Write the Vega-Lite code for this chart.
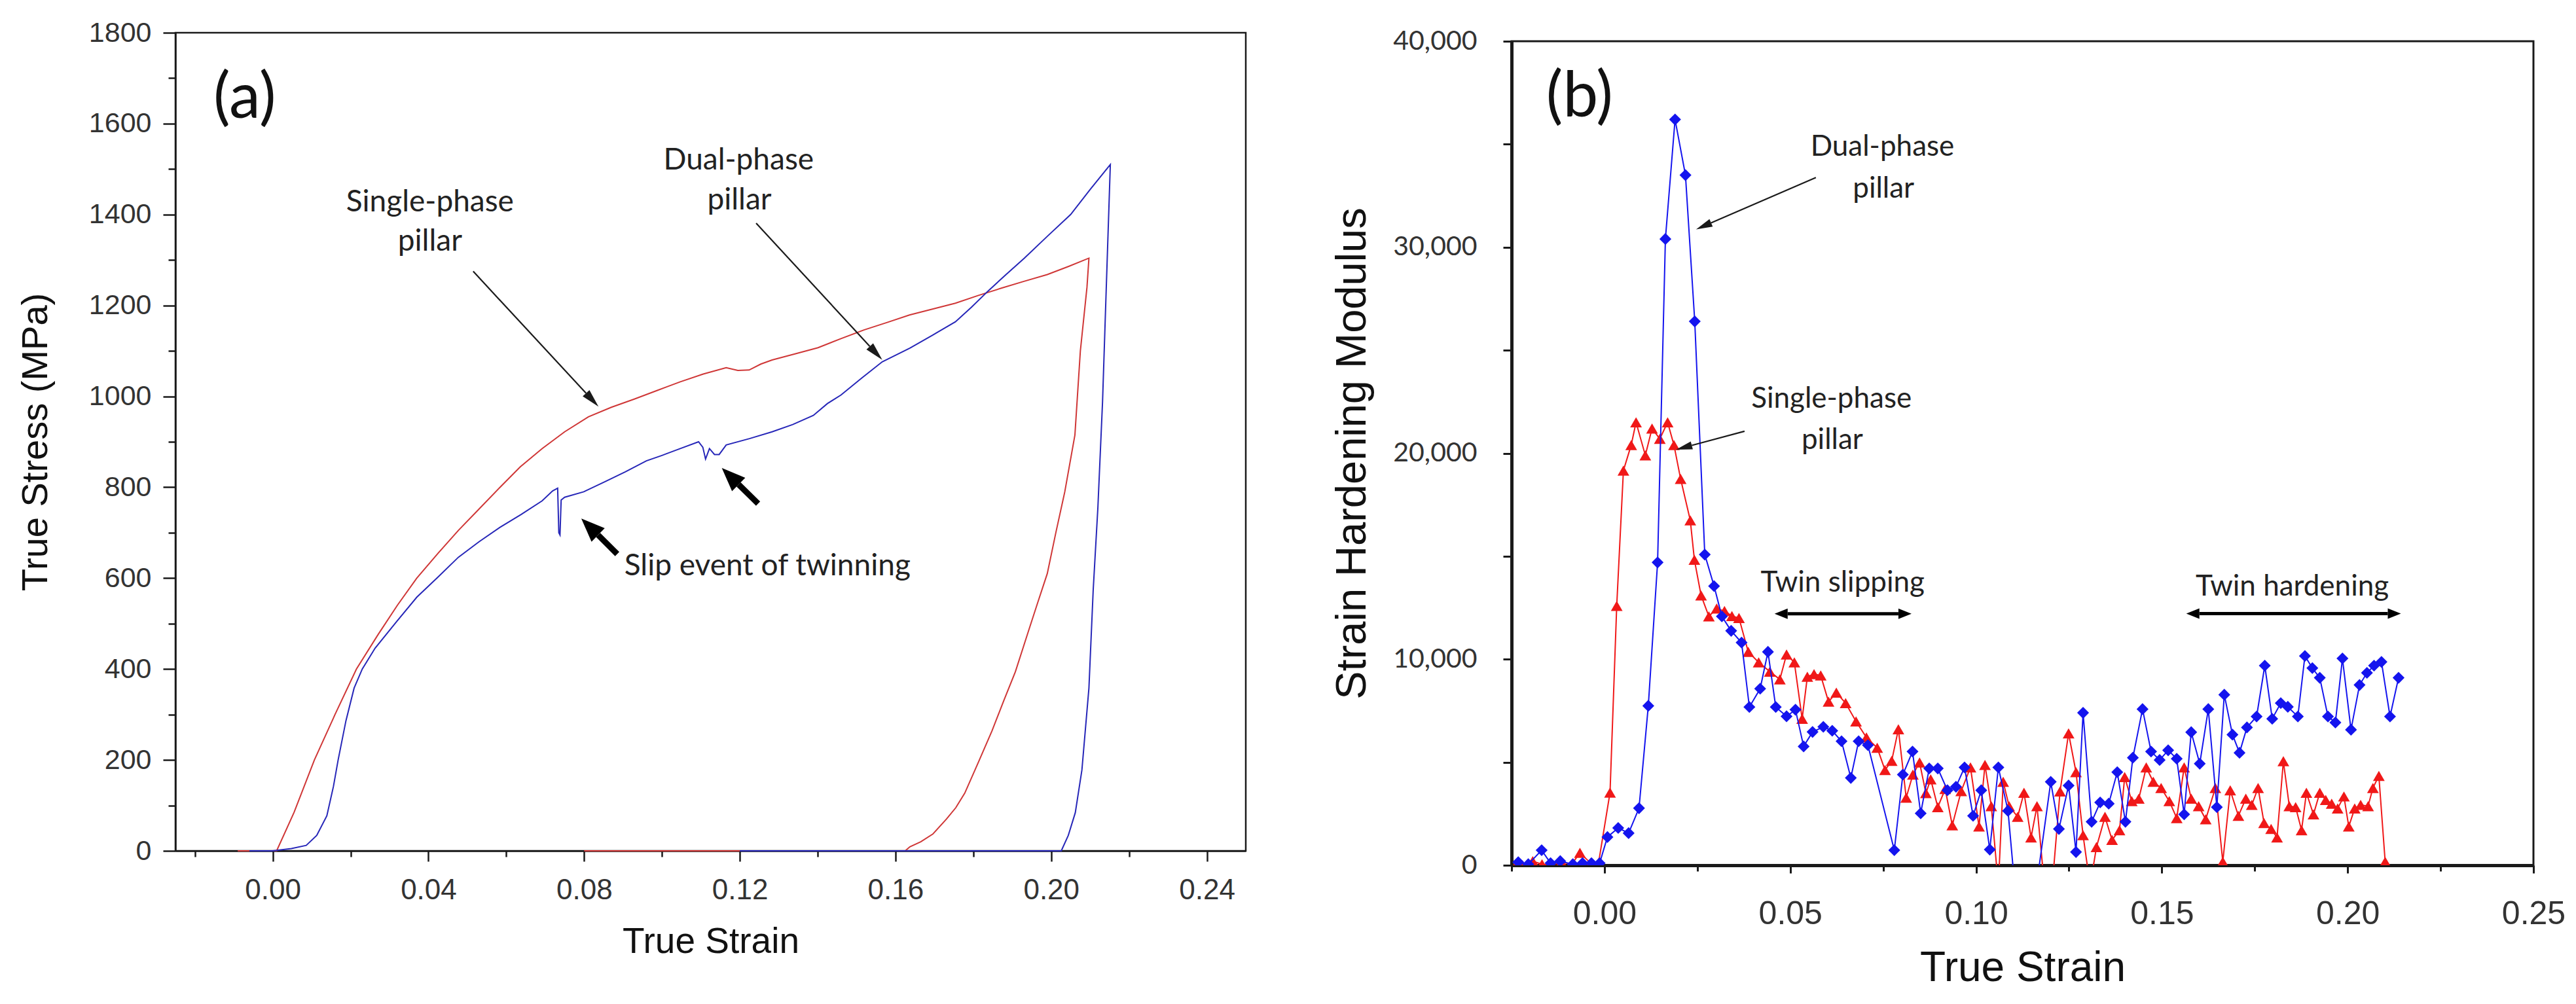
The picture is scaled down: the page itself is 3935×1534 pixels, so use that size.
{
  "$schema": "https://vega.github.io/schema/vega-lite/v6.json",
  "background": "white",
  "padding": {"left": 25, "top": 27, "right": 5, "bottom": 5},
  "config": {
    "view": {"stroke": null},
    "axis": {
      "grid": false,
      "labelFlush": false,
      "labelOverlap": false,
      "domainColor": "#1a1a1a",
      "tickColor": "#1a1a1a",
      "labelColor": "#333333",
      "titleColor": "#111111",
      "titleFontWeight": "normal",
      "labelFont": "Liberation Sans",
      "titleFont": "Liberation Sans"
    }
  },
  "datasets": {
    "stress": [
      {"phase": "single", "i": 1, "strain": -0.009, "stress": 0},
      {"phase": "single", "i": 2, "strain": 0.001, "stress": 0},
      {"phase": "single", "i": 3, "strain": 0.0055, "stress": 85},
      {"phase": "single", "i": 4, "strain": 0.0107, "stress": 200},
      {"phase": "single", "i": 5, "strain": 0.016, "stress": 300},
      {"phase": "single", "i": 6, "strain": 0.0215, "stress": 400},
      {"phase": "single", "i": 7, "strain": 0.027, "stress": 475},
      {"phase": "single", "i": 8, "strain": 0.032, "stress": 540},
      {"phase": "single", "i": 9, "strain": 0.037, "stress": 600},
      {"phase": "single", "i": 10, "strain": 0.0425, "stress": 655},
      {"phase": "single", "i": 11, "strain": 0.0477, "stress": 705},
      {"phase": "single", "i": 12, "strain": 0.053, "stress": 752},
      {"phase": "single", "i": 13, "strain": 0.0584, "stress": 800},
      {"phase": "single", "i": 14, "strain": 0.0636, "stress": 845},
      {"phase": "single", "i": 15, "strain": 0.0692, "stress": 885},
      {"phase": "single", "i": 16, "strain": 0.075, "stress": 922},
      {"phase": "single", "i": 17, "strain": 0.0811, "stress": 955},
      {"phase": "single", "i": 18, "strain": 0.087, "stress": 976},
      {"phase": "single", "i": 19, "strain": 0.0929, "stress": 994},
      {"phase": "single", "i": 20, "strain": 0.0988, "stress": 1013},
      {"phase": "single", "i": 21, "strain": 0.1047, "stress": 1032},
      {"phase": "single", "i": 22, "strain": 0.1106, "stress": 1049},
      {"phase": "single", "i": 23, "strain": 0.1165, "stress": 1063},
      {"phase": "single", "i": 24, "strain": 0.1195, "stress": 1057},
      {"phase": "single", "i": 25, "strain": 0.1224, "stress": 1058},
      {"phase": "single", "i": 26, "strain": 0.1254, "stress": 1071},
      {"phase": "single", "i": 27, "strain": 0.1283, "stress": 1080},
      {"phase": "single", "i": 28, "strain": 0.134, "stress": 1093},
      {"phase": "single", "i": 29, "strain": 0.1401, "stress": 1107},
      {"phase": "single", "i": 30, "strain": 0.146, "stress": 1127},
      {"phase": "single", "i": 31, "strain": 0.1519, "stress": 1146},
      {"phase": "single", "i": 32, "strain": 0.158, "stress": 1163},
      {"phase": "single", "i": 33, "strain": 0.1636, "stress": 1179},
      {"phase": "single", "i": 34, "strain": 0.1695, "stress": 1192},
      {"phase": "single", "i": 35, "strain": 0.1754, "stress": 1205},
      {"phase": "single", "i": 36, "strain": 0.1813, "stress": 1222},
      {"phase": "single", "i": 37, "strain": 0.1872, "stress": 1238},
      {"phase": "single", "i": 38, "strain": 0.193, "stress": 1253},
      {"phase": "single", "i": 39, "strain": 0.199, "stress": 1268},
      {"phase": "single", "i": 40, "strain": 0.2045, "stress": 1286},
      {"phase": "single", "i": 41, "strain": 0.2097, "stress": 1304},
      {"phase": "single", "i": 42, "strain": 0.2092, "stress": 1240},
      {"phase": "single", "i": 43, "strain": 0.2075, "stress": 1100},
      {"phase": "single", "i": 44, "strain": 0.2061, "stress": 915},
      {"phase": "single", "i": 45, "strain": 0.2035, "stress": 790},
      {"phase": "single", "i": 46, "strain": 0.2012, "stress": 700},
      {"phase": "single", "i": 47, "strain": 0.199, "stress": 610},
      {"phase": "single", "i": 48, "strain": 0.1965, "stress": 545},
      {"phase": "single", "i": 49, "strain": 0.1943, "stress": 487},
      {"phase": "single", "i": 50, "strain": 0.1908, "stress": 394},
      {"phase": "single", "i": 51, "strain": 0.1878, "stress": 330},
      {"phase": "single", "i": 52, "strain": 0.1848, "stress": 264},
      {"phase": "single", "i": 53, "strain": 0.1813, "stress": 195},
      {"phase": "single", "i": 54, "strain": 0.1778, "stress": 127},
      {"phase": "single", "i": 55, "strain": 0.1755, "stress": 95},
      {"phase": "single", "i": 56, "strain": 0.1731, "stress": 70},
      {"phase": "single", "i": 57, "strain": 0.1696, "stress": 37},
      {"phase": "single", "i": 58, "strain": 0.1665, "stress": 20},
      {"phase": "single", "i": 59, "strain": 0.1637, "stress": 9},
      {"phase": "single", "i": 60, "strain": 0.1625, "stress": 0},
      {"phase": "single", "i": 61, "strain": 0.08, "stress": 0},
      {"phase": "dual", "i": 1, "strain": -0.006, "stress": 0},
      {"phase": "dual", "i": 2, "strain": 0.0, "stress": 0},
      {"phase": "dual", "i": 3, "strain": 0.0048, "stress": 5},
      {"phase": "dual", "i": 4, "strain": 0.0086, "stress": 12},
      {"phase": "dual", "i": 5, "strain": 0.0113, "stress": 34},
      {"phase": "dual", "i": 6, "strain": 0.0139, "stress": 77},
      {"phase": "dual", "i": 7, "strain": 0.0156, "stress": 142},
      {"phase": "dual", "i": 8, "strain": 0.0168, "stress": 200},
      {"phase": "dual", "i": 9, "strain": 0.0188, "stress": 286},
      {"phase": "dual", "i": 10, "strain": 0.0209, "stress": 358},
      {"phase": "dual", "i": 11, "strain": 0.023, "stress": 400},
      {"phase": "dual", "i": 12, "strain": 0.0263, "stress": 446},
      {"phase": "dual", "i": 13, "strain": 0.0317, "stress": 503},
      {"phase": "dual", "i": 14, "strain": 0.037, "stress": 558},
      {"phase": "dual", "i": 15, "strain": 0.0424, "stress": 602},
      {"phase": "dual", "i": 16, "strain": 0.0477, "stress": 646},
      {"phase": "dual", "i": 17, "strain": 0.053, "stress": 680},
      {"phase": "dual", "i": 18, "strain": 0.0584, "stress": 712},
      {"phase": "dual", "i": 19, "strain": 0.0638, "stress": 740},
      {"phase": "dual", "i": 20, "strain": 0.0692, "stress": 770},
      {"phase": "dual", "i": 21, "strain": 0.0719, "stress": 792},
      {"phase": "dual", "i": 22, "strain": 0.0732, "stress": 798},
      {"phase": "dual", "i": 23, "strain": 0.0735, "stress": 700},
      {"phase": "dual", "i": 24, "strain": 0.0738, "stress": 695},
      {"phase": "dual", "i": 25, "strain": 0.0741, "stress": 772},
      {"phase": "dual", "i": 26, "strain": 0.075, "stress": 778},
      {"phase": "dual", "i": 27, "strain": 0.0799, "stress": 790},
      {"phase": "dual", "i": 28, "strain": 0.0853, "stress": 812},
      {"phase": "dual", "i": 29, "strain": 0.0906, "stress": 834},
      {"phase": "dual", "i": 30, "strain": 0.096, "stress": 858},
      {"phase": "dual", "i": 31, "strain": 0.1, "stress": 870},
      {"phase": "dual", "i": 32, "strain": 0.1047, "stress": 885},
      {"phase": "dual", "i": 33, "strain": 0.1094, "stress": 900},
      {"phase": "dual", "i": 34, "strain": 0.1105, "stress": 888},
      {"phase": "dual", "i": 35, "strain": 0.1112, "stress": 862},
      {"phase": "dual", "i": 36, "strain": 0.1122, "stress": 885},
      {"phase": "dual", "i": 37, "strain": 0.1135, "stress": 872},
      {"phase": "dual", "i": 38, "strain": 0.1147, "stress": 872},
      {"phase": "dual", "i": 39, "strain": 0.1165, "stress": 893},
      {"phase": "dual", "i": 40, "strain": 0.1225, "stress": 907},
      {"phase": "dual", "i": 41, "strain": 0.1283, "stress": 922},
      {"phase": "dual", "i": 42, "strain": 0.1336, "stress": 938},
      {"phase": "dual", "i": 43, "strain": 0.1389, "stress": 958},
      {"phase": "dual", "i": 44, "strain": 0.1425, "stress": 984},
      {"phase": "dual", "i": 45, "strain": 0.146, "stress": 1003},
      {"phase": "dual", "i": 46, "strain": 0.1513, "stress": 1040},
      {"phase": "dual", "i": 47, "strain": 0.1566, "stress": 1076},
      {"phase": "dual", "i": 48, "strain": 0.1637, "stress": 1106},
      {"phase": "dual", "i": 49, "strain": 0.1696, "stress": 1135},
      {"phase": "dual", "i": 50, "strain": 0.1754, "stress": 1164},
      {"phase": "dual", "i": 51, "strain": 0.1795, "stress": 1196},
      {"phase": "dual", "i": 52, "strain": 0.1837, "stress": 1231},
      {"phase": "dual", "i": 53, "strain": 0.1884, "stress": 1268},
      {"phase": "dual", "i": 54, "strain": 0.1931, "stress": 1304},
      {"phase": "dual", "i": 55, "strain": 0.199, "stress": 1352},
      {"phase": "dual", "i": 56, "strain": 0.205, "stress": 1400},
      {"phase": "dual", "i": 57, "strain": 0.21, "stress": 1455},
      {"phase": "dual", "i": 58, "strain": 0.2152, "stress": 1510},
      {"phase": "dual", "i": 59, "strain": 0.2142, "stress": 1250},
      {"phase": "dual", "i": 60, "strain": 0.2132, "stress": 988},
      {"phase": "dual", "i": 61, "strain": 0.212, "stress": 755},
      {"phase": "dual", "i": 62, "strain": 0.2108, "stress": 574},
      {"phase": "dual", "i": 63, "strain": 0.2097, "stress": 358},
      {"phase": "dual", "i": 64, "strain": 0.2079, "stress": 178},
      {"phase": "dual", "i": 65, "strain": 0.2062, "stress": 84},
      {"phase": "dual", "i": 66, "strain": 0.2044, "stress": 34},
      {"phase": "dual", "i": 67, "strain": 0.2026, "stress": 0},
      {"phase": "dual", "i": 68, "strain": 0.12, "stress": 0}
    ],
    "arrowsA": [
      {"id": "single", "kind": "thin", "strain": 0.0515, "stress": 1275, "strain2": 0.0805, "stress2": 1007},
      {"id": "dual", "kind": "thin", "strain": 0.1242, "stress": 1381, "strain2": 0.1534, "stress2": 1110},
      {"id": "slip1", "kind": "thick", "strain": 0.0885, "stress": 653, "strain2": 0.0836, "stress2": 695},
      {"id": "slip2", "kind": "thick", "strain": 0.1247, "stress": 764, "strain2": 0.1197, "stress2": 806}
    ],
    "labelsA": [
      {"kind": "tag", "label": "(a)", "strain": -0.0072, "stress": 1654},
      {"kind": "note", "label": "Single-phase", "strain": 0.0404, "stress": 1407},
      {"kind": "note", "label": "pillar", "strain": 0.0404, "stress": 1320},
      {"kind": "note", "label": "Dual-phase", "strain": 0.1197, "stress": 1499},
      {"kind": "note", "label": "pillar", "strain": 0.1199, "stress": 1411},
      {"kind": "note", "label": "Slip event of twinning", "strain": 0.1271, "stress": 606}
    ],
    "hardening": [
      {"phase": "single", "strain": -0.0235, "modulus": 100},
      {"phase": "single", "strain": -0.0221, "modulus": 0},
      {"phase": "single", "strain": -0.0193, "modulus": 200},
      {"phase": "single", "strain": -0.0168, "modulus": 50},
      {"phase": "single", "strain": -0.0144, "modulus": 0},
      {"phase": "single", "strain": -0.0116, "modulus": 150},
      {"phase": "single", "strain": -0.0088, "modulus": 50},
      {"phase": "single", "strain": -0.0066, "modulus": 600},
      {"phase": "single", "strain": -0.0037, "modulus": 100},
      {"phase": "single", "strain": -0.0016, "modulus": 100},
      {"phase": "single", "strain": 0.0015, "modulus": 3530},
      {"phase": "single", "strain": 0.0033, "modulus": 12590},
      {"phase": "single", "strain": 0.0051, "modulus": 19160},
      {"phase": "single", "strain": 0.0072, "modulus": 20400},
      {"phase": "single", "strain": 0.0085, "modulus": 21500},
      {"phase": "single", "strain": 0.011, "modulus": 19900},
      {"phase": "single", "strain": 0.0128, "modulus": 21200},
      {"phase": "single", "strain": 0.0149, "modulus": 20700},
      {"phase": "single", "strain": 0.017, "modulus": 21500},
      {"phase": "single", "strain": 0.0187, "modulus": 20400},
      {"phase": "single", "strain": 0.0205, "modulus": 18750},
      {"phase": "single", "strain": 0.0231, "modulus": 16740},
      {"phase": "single", "strain": 0.0242, "modulus": 14830},
      {"phase": "single", "strain": 0.026, "modulus": 13100},
      {"phase": "single", "strain": 0.0281, "modulus": 12080},
      {"phase": "single", "strain": 0.0302, "modulus": 12460},
      {"phase": "single", "strain": 0.0323, "modulus": 12340},
      {"phase": "single", "strain": 0.0343, "modulus": 12100},
      {"phase": "single", "strain": 0.0362, "modulus": 12000},
      {"phase": "single", "strain": 0.0387, "modulus": 10360},
      {"phase": "single", "strain": 0.0415, "modulus": 9850},
      {"phase": "single", "strain": 0.0445, "modulus": 9400},
      {"phase": "single", "strain": 0.0472, "modulus": 9020},
      {"phase": "single", "strain": 0.049, "modulus": 10230},
      {"phase": "single", "strain": 0.0511, "modulus": 9850},
      {"phase": "single", "strain": 0.0532, "modulus": 7110},
      {"phase": "single", "strain": 0.0546, "modulus": 9150},
      {"phase": "single", "strain": 0.0564, "modulus": 9280},
      {"phase": "single", "strain": 0.0582, "modulus": 9210},
      {"phase": "single", "strain": 0.0603, "modulus": 7940},
      {"phase": "single", "strain": 0.0624, "modulus": 8380},
      {"phase": "single", "strain": 0.0649, "modulus": 7870},
      {"phase": "single", "strain": 0.0677, "modulus": 6980},
      {"phase": "single", "strain": 0.0705, "modulus": 6200},
      {"phase": "single", "strain": 0.0734, "modulus": 5700},
      {"phase": "single", "strain": 0.0755, "modulus": 4620},
      {"phase": "single", "strain": 0.0773, "modulus": 5070},
      {"phase": "single", "strain": 0.0791, "modulus": 6600},
      {"phase": "single", "strain": 0.0812, "modulus": 3280},
      {"phase": "single", "strain": 0.083, "modulus": 4400},
      {"phase": "single", "strain": 0.0848, "modulus": 4990},
      {"phase": "single", "strain": 0.0865, "modulus": 3500},
      {"phase": "single", "strain": 0.0878, "modulus": 4170},
      {"phase": "single", "strain": 0.0897, "modulus": 2820},
      {"phase": "single", "strain": 0.0917, "modulus": 3700},
      {"phase": "single", "strain": 0.0936, "modulus": 1940},
      {"phase": "single", "strain": 0.096, "modulus": 3600},
      {"phase": "single", "strain": 0.0985, "modulus": 4750},
      {"phase": "single", "strain": 0.1008, "modulus": 1880},
      {"phase": "single", "strain": 0.1024, "modulus": 4870},
      {"phase": "single", "strain": 0.1041, "modulus": 2870},
      {"phase": "single", "strain": 0.106, "modulus": -1000},
      {"phase": "single", "strain": 0.1073, "modulus": 4050},
      {"phase": "single", "strain": 0.1089, "modulus": 2870},
      {"phase": "single", "strain": 0.1112, "modulus": 2350},
      {"phase": "single", "strain": 0.1129, "modulus": 3520},
      {"phase": "single", "strain": 0.1148, "modulus": 1350},
      {"phase": "single", "strain": 0.1164, "modulus": 2870},
      {"phase": "single", "strain": 0.1184, "modulus": -1000},
      {"phase": "single", "strain": 0.1205, "modulus": -1000},
      {"phase": "single", "strain": 0.1226, "modulus": 3580},
      {"phase": "single", "strain": 0.1249, "modulus": 6400},
      {"phase": "single", "strain": 0.1269, "modulus": 4520},
      {"phase": "single", "strain": 0.1288, "modulus": 1460},
      {"phase": "single", "strain": 0.1307, "modulus": -1000},
      {"phase": "single", "strain": 0.1324, "modulus": 880},
      {"phase": "single", "strain": 0.1347, "modulus": 2350},
      {"phase": "single", "strain": 0.1366, "modulus": 1230},
      {"phase": "single", "strain": 0.1386, "modulus": 1700},
      {"phase": "single", "strain": 0.14, "modulus": 4280},
      {"phase": "single", "strain": 0.1419, "modulus": 3110},
      {"phase": "single", "strain": 0.1438, "modulus": 3230},
      {"phase": "single", "strain": 0.1458, "modulus": 4750},
      {"phase": "single", "strain": 0.1477, "modulus": 4050},
      {"phase": "single", "strain": 0.1498, "modulus": 3750},
      {"phase": "single", "strain": 0.152, "modulus": 3110},
      {"phase": "single", "strain": 0.154, "modulus": 2290},
      {"phase": "single", "strain": 0.156, "modulus": 4750},
      {"phase": "single", "strain": 0.1579, "modulus": 3230},
      {"phase": "single", "strain": 0.1599, "modulus": 2870},
      {"phase": "single", "strain": 0.1618, "modulus": 2230},
      {"phase": "single", "strain": 0.1644, "modulus": 3750},
      {"phase": "single", "strain": 0.1664, "modulus": 170},
      {"phase": "single", "strain": 0.1684, "modulus": 3640},
      {"phase": "single", "strain": 0.1706, "modulus": 2400},
      {"phase": "single", "strain": 0.1726, "modulus": 3230},
      {"phase": "single", "strain": 0.1742, "modulus": 2930},
      {"phase": "single", "strain": 0.1759, "modulus": 3750},
      {"phase": "single", "strain": 0.1775, "modulus": 2050},
      {"phase": "single", "strain": 0.1794, "modulus": 1760},
      {"phase": "single", "strain": 0.181, "modulus": 1350},
      {"phase": "single", "strain": 0.1827, "modulus": 5050},
      {"phase": "single", "strain": 0.1843, "modulus": 2870},
      {"phase": "single", "strain": 0.186, "modulus": 2820},
      {"phase": "single", "strain": 0.1876, "modulus": 1700},
      {"phase": "single", "strain": 0.1889, "modulus": 3520},
      {"phase": "single", "strain": 0.1908, "modulus": 2470},
      {"phase": "single", "strain": 0.1925, "modulus": 3520},
      {"phase": "single", "strain": 0.1941, "modulus": 3170},
      {"phase": "single", "strain": 0.1957, "modulus": 2990},
      {"phase": "single", "strain": 0.1973, "modulus": 2760},
      {"phase": "single", "strain": 0.199, "modulus": 3340},
      {"phase": "single", "strain": 0.2003, "modulus": 1880},
      {"phase": "single", "strain": 0.2019, "modulus": 2760},
      {"phase": "single", "strain": 0.2035, "modulus": 2930},
      {"phase": "single", "strain": 0.2055, "modulus": 2870},
      {"phase": "single", "strain": 0.2068, "modulus": 3750},
      {"phase": "single", "strain": 0.2084, "modulus": 4340},
      {"phase": "single", "strain": 0.2101, "modulus": 170},
      {"phase": "dual", "strain": -0.0232, "modulus": 150},
      {"phase": "dual", "strain": -0.0205, "modulus": 50},
      {"phase": "dual", "strain": -0.0169, "modulus": 730},
      {"phase": "dual", "strain": -0.0145, "modulus": 100},
      {"phase": "dual", "strain": -0.0119, "modulus": 200},
      {"phase": "dual", "strain": -0.0085, "modulus": 50},
      {"phase": "dual", "strain": -0.0059, "modulus": 100},
      {"phase": "dual", "strain": -0.0035, "modulus": 100},
      {"phase": "dual", "strain": -0.0013, "modulus": 100},
      {"phase": "dual", "strain": 0.0008, "modulus": 1370},
      {"phase": "dual", "strain": 0.0037, "modulus": 1810},
      {"phase": "dual", "strain": 0.0065, "modulus": 1560},
      {"phase": "dual", "strain": 0.0093, "modulus": 2770},
      {"phase": "dual", "strain": 0.0118, "modulus": 7740},
      {"phase": "dual", "strain": 0.0143, "modulus": 14700},
      {"phase": "dual", "strain": 0.0164, "modulus": 30400},
      {"phase": "dual", "strain": 0.019, "modulus": 36200},
      {"phase": "dual", "strain": 0.0218, "modulus": 33500},
      {"phase": "dual", "strain": 0.0243, "modulus": 26400},
      {"phase": "dual", "strain": 0.027, "modulus": 15080},
      {"phase": "dual", "strain": 0.0295, "modulus": 13550},
      {"phase": "dual", "strain": 0.0316, "modulus": 12080},
      {"phase": "dual", "strain": 0.0341, "modulus": 11380},
      {"phase": "dual", "strain": 0.0369, "modulus": 10810},
      {"phase": "dual", "strain": 0.039, "modulus": 7680},
      {"phase": "dual", "strain": 0.0419, "modulus": 8570},
      {"phase": "dual", "strain": 0.044, "modulus": 10360},
      {"phase": "dual", "strain": 0.0461, "modulus": 7680},
      {"phase": "dual", "strain": 0.049, "modulus": 7230},
      {"phase": "dual", "strain": 0.0514, "modulus": 7550},
      {"phase": "dual", "strain": 0.0536, "modulus": 5770},
      {"phase": "dual", "strain": 0.056, "modulus": 6470},
      {"phase": "dual", "strain": 0.0589, "modulus": 6720},
      {"phase": "dual", "strain": 0.0613, "modulus": 6530},
      {"phase": "dual", "strain": 0.0638, "modulus": 6020},
      {"phase": "dual", "strain": 0.0663, "modulus": 4240},
      {"phase": "dual", "strain": 0.0684, "modulus": 6020},
      {"phase": "dual", "strain": 0.0709, "modulus": 5830},
      {"phase": "dual", "strain": 0.078, "modulus": 730},
      {"phase": "dual", "strain": 0.0803, "modulus": 4400},
      {"phase": "dual", "strain": 0.0829, "modulus": 5520},
      {"phase": "dual", "strain": 0.0851, "modulus": 2520},
      {"phase": "dual", "strain": 0.0874, "modulus": 4700},
      {"phase": "dual", "strain": 0.0897, "modulus": 4700},
      {"phase": "dual", "strain": 0.0923, "modulus": 3640},
      {"phase": "dual", "strain": 0.0946, "modulus": 3810},
      {"phase": "dual", "strain": 0.0969, "modulus": 4750},
      {"phase": "dual", "strain": 0.0992, "modulus": 2400},
      {"phase": "dual", "strain": 0.1014, "modulus": 3640},
      {"phase": "dual", "strain": 0.1037, "modulus": 760},
      {"phase": "dual", "strain": 0.106, "modulus": 4750},
      {"phase": "dual", "strain": 0.1086, "modulus": 2640},
      {"phase": "dual", "strain": 0.1109, "modulus": -2000},
      {"phase": "dual", "strain": 0.1155, "modulus": -2000},
      {"phase": "dual", "strain": 0.1201, "modulus": 4050},
      {"phase": "dual", "strain": 0.1223, "modulus": 1760},
      {"phase": "dual", "strain": 0.1249, "modulus": 3870},
      {"phase": "dual", "strain": 0.1269, "modulus": 640},
      {"phase": "dual", "strain": 0.1288, "modulus": 7400},
      {"phase": "dual", "strain": 0.1311, "modulus": 2110},
      {"phase": "dual", "strain": 0.1334, "modulus": 3050},
      {"phase": "dual", "strain": 0.1357, "modulus": 2990},
      {"phase": "dual", "strain": 0.138, "modulus": 4520},
      {"phase": "dual", "strain": 0.1402, "modulus": 2110},
      {"phase": "dual", "strain": 0.1422, "modulus": 5220},
      {"phase": "dual", "strain": 0.1448, "modulus": 7580},
      {"phase": "dual", "strain": 0.1471, "modulus": 5520},
      {"phase": "dual", "strain": 0.1494, "modulus": 5110},
      {"phase": "dual", "strain": 0.1517, "modulus": 5580},
      {"phase": "dual", "strain": 0.154, "modulus": 5170},
      {"phase": "dual", "strain": 0.156, "modulus": 2470},
      {"phase": "dual", "strain": 0.1579, "modulus": 6460},
      {"phase": "dual", "strain": 0.1602, "modulus": 4930},
      {"phase": "dual", "strain": 0.1625, "modulus": 7580},
      {"phase": "dual", "strain": 0.1648, "modulus": 2820},
      {"phase": "dual", "strain": 0.1668, "modulus": 8280},
      {"phase": "dual", "strain": 0.169, "modulus": 6340},
      {"phase": "dual", "strain": 0.1709, "modulus": 5460},
      {"phase": "dual", "strain": 0.1729, "modulus": 6690},
      {"phase": "dual", "strain": 0.1755, "modulus": 7220},
      {"phase": "dual", "strain": 0.1777, "modulus": 9690},
      {"phase": "dual", "strain": 0.1797, "modulus": 7110},
      {"phase": "dual", "strain": 0.182, "modulus": 7870},
      {"phase": "dual", "strain": 0.1839, "modulus": 7690},
      {"phase": "dual", "strain": 0.1866, "modulus": 7220},
      {"phase": "dual", "strain": 0.1885, "modulus": 10160},
      {"phase": "dual", "strain": 0.1905, "modulus": 9570},
      {"phase": "dual", "strain": 0.1925, "modulus": 9100},
      {"phase": "dual", "strain": 0.1947, "modulus": 7220},
      {"phase": "dual", "strain": 0.1967, "modulus": 6930},
      {"phase": "dual", "strain": 0.1986, "modulus": 10040},
      {"phase": "dual", "strain": 0.2009, "modulus": 6580},
      {"phase": "dual", "strain": 0.2032, "modulus": 8750},
      {"phase": "dual", "strain": 0.2052, "modulus": 9340},
      {"phase": "dual", "strain": 0.2071, "modulus": 9690},
      {"phase": "dual", "strain": 0.2091, "modulus": 9870},
      {"phase": "dual", "strain": 0.2114, "modulus": 7220},
      {"phase": "dual", "strain": 0.2137, "modulus": 9100}
    ],
    "arrowsB": [
      {"id": "dual", "kind": "thin", "strain": 0.0569, "modulus": 33380, "strain2": 0.0287, "modulus2": 31180},
      {"id": "single", "kind": "thin", "strain": 0.0377, "modulus": 21070, "strain2": 0.0235, "modulus2": 20380},
      {"id": "slipping", "kind": "span", "strain": 0.0493, "modulus": 12210, "strain2": 0.0791, "modulus2": 12210},
      {"id": "hardening", "kind": "span", "strain": 0.1601, "modulus": 12220, "strain2": 0.2108, "modulus2": 12220}
    ],
    "labelsB": [
      {"kind": "tag", "label": "(b)", "strain": -0.0067, "modulus": 37270},
      {"kind": "note", "label": "Dual-phase", "strain": 0.0748, "modulus": 34450},
      {"kind": "note", "label": "pillar", "strain": 0.0751, "modulus": 32420},
      {"kind": "note", "label": "Single-phase", "strain": 0.0611, "modulus": 22210},
      {"kind": "note", "label": "pillar", "strain": 0.0613, "modulus": 20220},
      {"kind": "note", "label": "Twin slipping", "strain": 0.0641, "modulus": 13290},
      {"kind": "note", "label": "Twin hardening", "strain": 0.1851, "modulus": 13100}
    ]
  },
  "bounds": "flush",
  "spacing": 406,
  "hconcat": [
    {
      "width": 1635,
      "height": 1250,
      "view": {"stroke": "#1a1a1a", "strokeWidth": 2.5},
      "resolve": {"axis": {"x": "independent", "y": "independent"}},
      "encoding": {
        "x": {"field": "strain", "type": "quantitative", "scale": {"domain": [-0.025, 0.25], "nice": false, "zero": false}, "axis": null},
        "y": {"field": "stress", "type": "quantitative", "scale": {"domain": [0, 1800], "nice": false}, "axis": null}
      },
      "layer": [
        {
          "data": {"name": "stress"},
          "transform": [{"filter": "datum.phase == 'single'"}],
          "mark": {"type": "line", "color": "#cf3636", "strokeWidth": 2},
          "encoding": {
            "x": {
              "field": "strain",
              "type": "quantitative",
              "axis": {
                "orient": "bottom",
                "title": "True Strain",
                "values": [0, 0.04, 0.08, 0.12, 0.16, 0.2, 0.24],
                "format": ".2f",
                "tickSize": 16,
                "labelFontSize": 44,
                "labelPadding": 22,
                "titleFontSize": 55,
                "titlePadding": 30,
                "domainWidth": 2.5,
                "tickWidth": 2.5
              }
            },
            "y": {
              "field": "stress",
              "type": "quantitative",
              "axis": {
                "orient": "left",
                "title": "True Stress (MPa)",
                "values": [0, 200, 400, 600, 800, 1000, 1200, 1400, 1600, 1800],
                "format": "d",
                "tickSize": 19,
                "labelFontSize": 43,
                "labelPadding": 18,
                "titleFontSize": 56,
                "titlePadding": 52,
                "domainWidth": 2.5,
                "tickWidth": 2.5
              }
            },
            "order": {"field": "i", "type": "quantitative"}
          }
        },
        {
          "data": {"name": "stress"},
          "transform": [{"filter": "datum.phase == 'dual'"}],
          "mark": {"type": "line", "color": "#2626b8", "strokeWidth": 2},
          "encoding": {"order": {"field": "i", "type": "quantitative"}}
        },
        {
          "data": {"name": "arrowsA"},
          "transform": [{"filter": "datum.kind == 'thin'"}],
          "mark": {"type": "rule", "color": "#1a1a1a", "strokeWidth": 2.2},
          "encoding": {"x2": {"field": "strain2"}, "y2": {"field": "stress2"}}
        },
        {
          "data": {"name": "arrowsA"},
          "transform": [{"filter": "datum.kind == 'thick'"}],
          "mark": {"type": "rule", "color": "#000000", "strokeWidth": 9},
          "encoding": {"x2": {"field": "strain2"}, "y2": {"field": "stress2"}}
        },
        {
          "data": {"name": "arrowsA"},
          "transform": [{"filter": "datum.kind == 'thin'"}],
          "mark": {"type": "point", "shape": "M0,-2L0.5,0L-0.5,0Z", "filled": true, "color": "#1a1a1a", "opacity": 1, "size": 784, "angle": 137.3},
          "encoding": {
            "x": {"field": "strain2", "type": "quantitative", "axis": null},
            "y": {"field": "stress2", "type": "quantitative", "axis": null}
          }
        },
        {
          "data": {"name": "arrowsA"},
          "transform": [{"filter": "datum.kind == 'thick'"}],
          "mark": {"type": "point", "shape": "M0,-2L0.8,0L-0.8,0Z", "filled": true, "color": "#000000", "opacity": 1, "size": 1296, "angle": -45.5},
          "encoding": {
            "x": {"field": "strain2", "type": "quantitative", "axis": null},
            "y": {"field": "stress2", "type": "quantitative", "axis": null}
          }
        },
        {
          "data": {"name": "labelsA"},
          "transform": [{"filter": "datum.kind == 'note'"}],
          "mark": {"type": "text", "font": "Lato", "fontSize": 46, "color": "#222222", "align": "center", "baseline": "alphabetic"},
          "encoding": {"text": {"field": "label"}}
        },
        {
          "data": {"name": "labelsA"},
          "transform": [{"filter": "datum.kind == 'tag'"}],
          "mark": {"type": "text", "font": "Lato", "fontSize": 96, "color": "#111111", "align": "center", "baseline": "middle"},
          "encoding": {"text": {"field": "label"}}
        },
        {
          "data": {"name": "labelsA"},
          "mark": {"type": "point", "opacity": 0},
          "encoding": {
            "x": {
              "field": "strain",
              "type": "quantitative",
              "axis": {
                "orient": "bottom",
                "title": null,
                "values": [-0.02, 0.02, 0.06, 0.1, 0.14, 0.18, 0.22],
                "labels": false,
                "domain": false,
                "tickSize": 9,
                "tickWidth": 2.5
              }
            },
            "y": {
              "field": "stress",
              "type": "quantitative",
              "axis": {
                "orient": "left",
                "title": null,
                "values": [100, 300, 500, 700, 900, 1100, 1300, 1500, 1700],
                "labels": false,
                "domain": false,
                "tickSize": 11,
                "tickWidth": 2.5
              }
            }
          }
        }
      ]
    },
    {
      "bounds": "flush",
      "spacing": 0,
      "vconcat": [
        {
          "width": 1561,
          "height": 13,
          "data": {"values": [{"a": 0}]},
          "mark": {"type": "point", "opacity": 0}
        },
        {
          "width": 1561,
          "height": 1259,
          "view": {"stroke": "#1a1a1a", "strokeWidth": 3},
          "resolve": {"axis": {"x": "independent", "y": "independent"}},
          "encoding": {
            "x": {"field": "strain", "type": "quantitative", "scale": {"domain": [-0.025, 0.25], "nice": false, "zero": false}, "axis": null},
            "y": {"field": "modulus", "type": "quantitative", "scale": {"domain": [0, 40000], "nice": false}, "axis": null}
          },
          "layer": [
            {
              "data": {"name": "hardening"},
              "transform": [{"filter": "datum.phase == 'single'"}],
              "mark": {"type": "line", "color": "#f01818", "strokeWidth": 2, "clip": true},
              "encoding": {
                "x": {
                  "field": "strain",
                  "type": "quantitative",
                  "axis": {
                    "orient": "bottom",
                    "title": "True Strain",
                    "values": [0, 0.05, 0.1, 0.15, 0.2, 0.25],
                    "format": ".2f",
                    "tickSize": 12,
                    "labelFontSize": 50,
                    "labelPadding": 37,
                    "titleFontSize": 64,
                    "titlePadding": 26,
                    "domainWidth": 5,
                    "tickWidth": 3
                  }
                },
                "y": {
                  "field": "modulus",
                  "type": "quantitative",
                  "axis": {
                    "orient": "left",
                    "title": "Strain Hardening Modulus",
                    "values": [0, 5000, 10000, 15000, 20000, 25000, 30000, 35000, 40000],
                    "labelExpr": "datum.value % 10000 == 0 ? format(datum.value, ',') : ''",
                    "tickSize": 13,
                    "labelFont": "Lato",
                    "labelFontSize": 41,
                    "labelPadding": 40,
                    "titleFontSize": 65,
                    "titlePadding": 28,
                    "domainWidth": 5,
                    "tickWidth": 3
                  }
                }
              }
            },
            {
              "data": {"name": "hardening"},
              "transform": [{"filter": "datum.phase == 'single'"}],
              "mark": {"type": "point", "shape": "triangle-up", "filled": true, "color": "#f01818", "opacity": 1, "size": 320, "clip": true}
            },
            {
              "data": {"name": "hardening"},
              "transform": [{"filter": "datum.phase == 'dual'"}],
              "mark": {"type": "line", "color": "#1414ee", "strokeWidth": 2, "clip": true}
            },
            {
              "data": {"name": "hardening"},
              "transform": [{"filter": "datum.phase == 'dual'"}],
              "mark": {"type": "point", "shape": "diamond", "filled": true, "color": "#1414ee", "opacity": 1, "size": 330, "clip": true}
            },
            {
              "data": {"name": "arrowsB"},
              "transform": [{"filter": "datum.kind == 'thin'"}],
              "mark": {"type": "rule", "color": "#1a1a1a", "strokeWidth": 2.2},
              "encoding": {"x2": {"field": "strain2"}, "y2": {"field": "modulus2"}}
            },
            {
              "data": {"name": "arrowsB"},
              "transform": [{"filter": "datum.kind == 'span'"}],
              "mark": {"type": "rule", "color": "#000000", "strokeWidth": 5},
              "encoding": {"x2": {"field": "strain2"}, "y2": {"field": "modulus2"}}
            },
            {
              "data": {"name": "arrowsB"},
              "transform": [{"filter": "datum.id == 'dual'"}],
              "mark": {"type": "point", "shape": "M0,-2L0.5,0L-0.5,0Z", "filled": true, "color": "#1a1a1a", "opacity": 1, "size": 625, "angle": -113.4},
              "encoding": {
                "x": {"field": "strain2", "type": "quantitative", "axis": null},
                "y": {"field": "modulus2", "type": "quantitative", "axis": null}
              }
            },
            {
              "data": {"name": "arrowsB"},
              "transform": [{"filter": "datum.id == 'single'"}],
              "mark": {"type": "point", "shape": "M0,-2L0.5,0L-0.5,0Z", "filled": true, "color": "#1a1a1a", "opacity": 1, "size": 625, "angle": -105},
              "encoding": {
                "x": {"field": "strain2", "type": "quantitative", "axis": null},
                "y": {"field": "modulus2", "type": "quantitative", "axis": null}
              }
            },
            {
              "data": {"name": "arrowsB"},
              "transform": [{"filter": "datum.kind == 'span'"}],
              "mark": {"type": "point", "shape": "M0,-2L0.8,0L-0.8,0Z", "filled": true, "color": "#000000", "opacity": 1, "size": 400, "angle": -90}
            },
            {
              "data": {"name": "arrowsB"},
              "transform": [{"filter": "datum.kind == 'span'"}],
              "mark": {"type": "point", "shape": "M0,-2L0.8,0L-0.8,0Z", "filled": true, "color": "#000000", "opacity": 1, "size": 400, "angle": 90},
              "encoding": {
                "x": {"field": "strain2", "type": "quantitative", "axis": null},
                "y": {"field": "modulus2", "type": "quantitative", "axis": null}
              }
            },
            {
              "data": {"name": "labelsB"},
              "transform": [{"filter": "datum.kind == 'note'"}],
              "mark": {"type": "text", "font": "Lato", "fontSize": 44, "color": "#222222", "align": "center", "baseline": "alphabetic"},
              "encoding": {"text": {"field": "label"}}
            },
            {
              "data": {"name": "labelsB"},
              "transform": [{"filter": "datum.kind == 'tag'"}],
              "mark": {"type": "text", "font": "Lato", "fontSize": 96, "color": "#111111", "align": "center", "baseline": "middle"},
              "encoding": {"text": {"field": "label"}}
            },
            {
              "data": {"name": "labelsB"},
              "mark": {"type": "point", "opacity": 0},
              "encoding": {
                "x": {
                  "field": "strain",
                  "type": "quantitative",
                  "axis": {
                    "orient": "bottom",
                    "title": null,
                    "values": [-0.025, 0.025, 0.075, 0.125, 0.175, 0.225],
                    "labels": false,
                    "domain": false,
                    "tickSize": 9,
                    "tickWidth": 3
                  }
                }
              }
            }
          ]
        }
      ]
    }
  ]
}
